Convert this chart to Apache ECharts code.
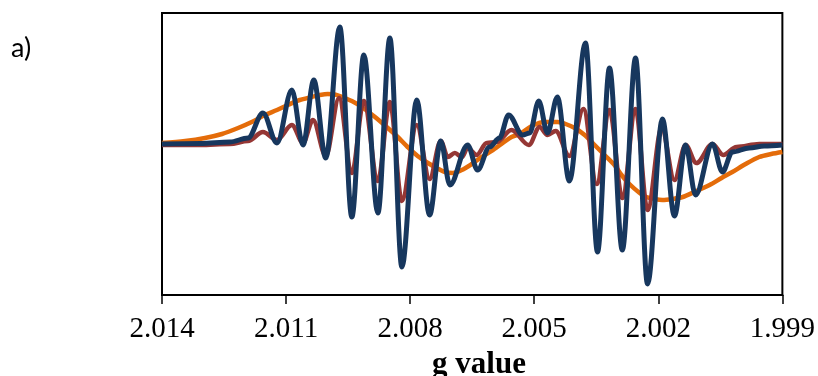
<!DOCTYPE html>
<html>
<head>
<meta charset="utf-8">
<script src="https://cdn.jsdelivr.net/npm/echarts@6/dist/echarts.min.js"></script>
<style>html,body{margin:0;padding:0;background:#fff}#c{width:818px;height:376px}</style>
</head>
<body>
<div id="c"></div>
<script>
// g values (x) and signal intensities (arbitrary units)
const xTicks = [2.014, 2.011, 2.008, 2.005, 2.002, 1.999];

const orangeG = [2.01400,2.01344,2.01296,2.01255,2.01216,2.01183,2.01151,2.01122,2.01096,2.01067,2.01038,2.01018,2.00999,2.00982,2.00965,2.00941,2.00917,2.00885,2.00854,2.00830,2.00806,2.00782,2.00757,2.00736,2.00716,2.00697,2.00675,2.00651,2.00627,2.00603,2.00576,2.00555,2.00535,2.00506,2.00475,2.00443,2.00424,2.00402,2.00378,2.00354,2.00330,2.00306,2.00289,2.00270,2.00245,2.00229,2.00209,2.00190,2.00166,2.00141,2.00113,2.00076,2.00047,2.00021,1.99989,1.99956,1.99927,1.99900];
const orangeI = [1,3,6,10,16,22,29,34,39,44,47,49,50,49.5,47,43,37,27,16,7,-3,-12,-19,-24,-28,-29,-26,-20,-13,-7,1,7,10,18,22,22,20,16,9,-1,-11,-21,-31,-40,-49,-53,-55,-56,-55,-53,-48,-41,-34,-28,-20,-13,-10,-8];

const redG = [2.01400,2.01308,2.01236,2.01192,2.01156,2.01122,2.01086,2.01059,2.01035,2.01004,2.00972,2.00941,2.00912,2.00878,2.00849,2.00820,2.00784,2.00753,2.00726,2.00709,2.00692,2.00675,2.00661,2.00639,2.00615,2.00591,2.00555,2.00513,2.00487,2.00468,2.00448,2.00415,2.00381,2.00349,2.00318,2.00287,2.00255,2.00226,2.00192,2.00161,2.00134,2.00108,2.00069,2.00043,2.00011,1.99956,1.99900];
const redI = [-1,-1,0,3,12,4,19,1,24,-12,46,-29,43,-37,42,-57,19,-35,3,-13,-9,-13,-4,-11,1,2,14,-1,17,9,13,-12,35,-40,34,-54,35,-66,16,-36,-1,-19,0,-11,-3,0,0];

const blueG = [2.01400,2.01308,2.01236,2.01192,2.01156,2.01122,2.01086,2.01059,2.01033,2.01004,2.00970,2.00941,2.00912,2.00878,2.00849,2.00820,2.00784,2.00753,2.00726,2.00704,2.00661,2.00637,2.00608,2.00584,2.00562,2.00528,2.00511,2.00489,2.00468,2.00444,2.00415,2.00376,2.00347,2.00318,2.00287,2.00255,2.00226,2.00190,2.00161,2.00134,2.00110,2.00069,2.00045,2.00021,1.99980,1.99944,1.99900];
const blueI = [0,0.5,2,6,31,1,54,-1,64,-14,117,-73,89,-69,106,-123,44,-71,3,-41,-1,-26,-3,6,29,9,11,43,11,47,-37,101,-108,76,-106,86,-140,25,-72,-1,-51,0,-28,-8,-4,-2,-1];

const G0 = 1.999;
const toX = g => (g - G0) * 1000;
const build = (gs, vs) => gs.map((g, i) => [toX(g), vs[i]]);

const chart = echarts.init(document.getElementById('c'), null, {renderer: 'canvas'});
chart.setOption({
  animation: false,
  backgroundColor: '#fff',
  grid: {left: 162, right: 35, top: 13, bottom: 81, show: true, borderColor: '#000', borderWidth: 2, backgroundColor: 'transparent'},
  xAxis: {
    type: 'value', inverse: true, min: 0, max: toX(xTicks[0]), interval: 3,
    axisLine: {show: true, onZero: false, lineStyle: {color: '#000', width: 2}},
    axisTick: {show: true, inside: false, length: 9, lineStyle: {color: '#000', width: 1.5}},
    splitLine: {show: false},
    axisLabel: {
      margin: 20, color: '#000', fontFamily: 'Liberation Serif', fontSize: 29,
      formatter: v => (G0 + v / 1000).toFixed(3)
    }
  },
  yAxis: {type: 'value', min: -151, max: 131, show: false, splitLine: {show: false}},
  graphic: [
    {type: 'text', left: 11, top: 35, style: {text: 'a)', font: '27px Lato', fill: '#000'}},
    {type: 'text', x: 479, y: 365, style: {text: 'g value', font: 'bold 31px "Liberation Serif"', fill: '#000', textAlign: 'center', textVerticalAlign: 'middle'}}
  ],
  series: [
    {type: 'line', data: build(orangeG, orangeI), showSymbol: false, smooth: 0.3, lineStyle: {color: '#E46C0A', width: 4.5}, z: 2},
    {type: 'line', data: build(redG, redI), showSymbol: false, smooth: 0.34, smoothMonotone: 'x', lineStyle: {color: '#953735', width: 4.5}, z: 3},
    {type: 'line', data: build(blueG, blueI), showSymbol: false, smooth: 0.34, smoothMonotone: 'x', lineStyle: {color: '#17375E', width: 5}, z: 4}
  ]
});
</script>
</body>
</html>
